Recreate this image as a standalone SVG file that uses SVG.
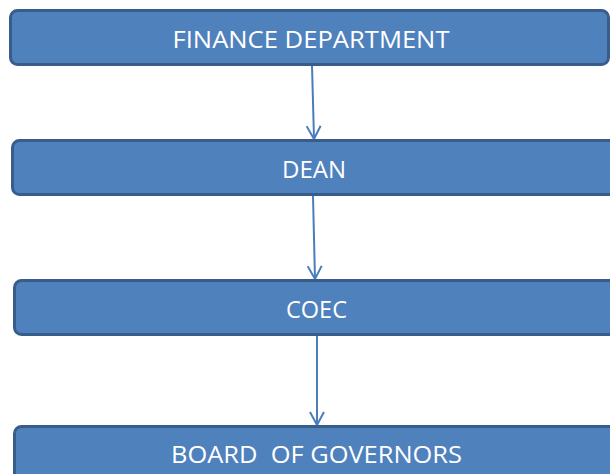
<svg xmlns="http://www.w3.org/2000/svg" width="610" height="474" viewBox="0 0 610 474">
<style>
.box{fill:#4F81BD;stroke:#385D8A;stroke-width:3}
.lbl{fill:#FFFFFF;font-family:"Open Sans","Liberation Sans",sans-serif;font-size:24px;text-anchor:middle;white-space:pre}
.conn{stroke:#4A7EBB;stroke-width:2;fill:none;marker-end:url(#arr)}
</style>
<defs>
<marker id="arr" markerWidth="16" markerHeight="16" refX="14" refY="8" orient="auto" markerUnits="userSpaceOnUse" viewBox="0 0 16 16">
<path d="M1,1 L14,8 L1,15" fill="none" stroke="#4A7EBB" stroke-width="2"/>
</marker>
</defs>
<rect width="610" height="474" fill="#FFFFFF"/>
<g id="connectors">
<path class="conn" d="M312,65 L314,139"/>
<path class="conn" d="M313,196 L315,279"/>
<path class="conn" d="M317,336 L317,425"/>
</g>
<g id="finance">
<rect class="box" x="10.5" y="10.5" width="598" height="54" rx="7"/>
<text class="lbl" x="311" y="48" textLength="277" lengthAdjust="spacingAndGlyphs">FINANCE DEPARTMENT</text>
</g>
<g id="dean">
<rect class="box" x="12.5" y="140.5" width="610" height="54" rx="7"/>
<text class="lbl" x="314" y="178" textLength="64" lengthAdjust="spacingAndGlyphs">DEAN</text>
</g>
<g id="coec">
<rect class="box" x="14.5" y="280.5" width="610" height="54" rx="7"/>
<text class="lbl" x="316.5" y="318" textLength="61" lengthAdjust="spacingAndGlyphs">COEC</text>
</g>
<g id="board">
<rect class="box" x="14.5" y="426.5" width="610" height="60" rx="7"/>
<text class="lbl" x="316.5" y="463" textLength="291" lengthAdjust="spacingAndGlyphs">BOARD  OF GOVERNORS</text>
</g>
</svg>
